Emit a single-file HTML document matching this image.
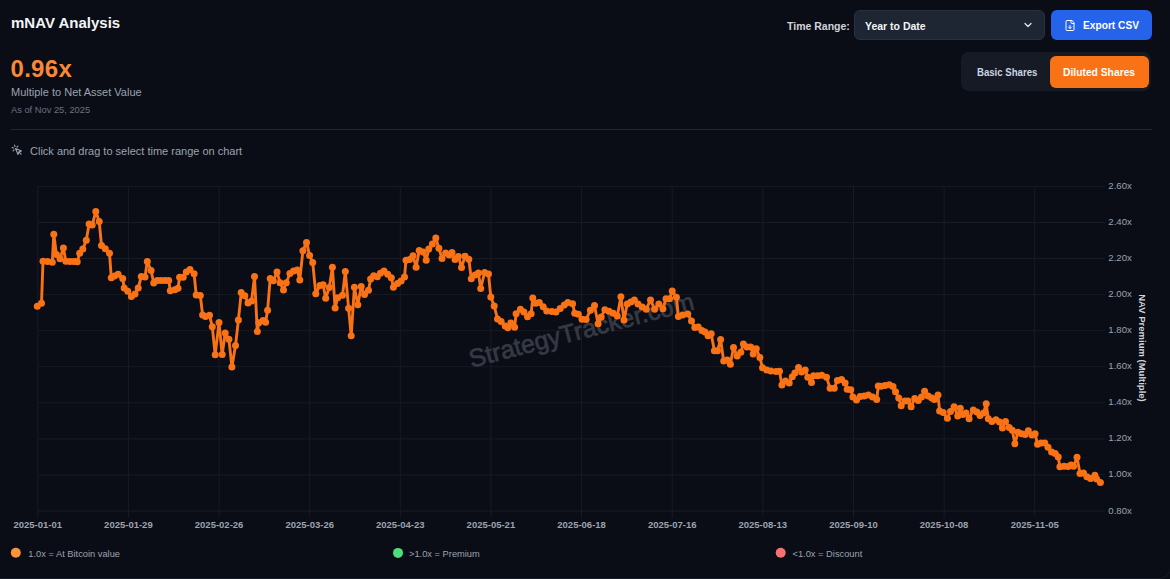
<!DOCTYPE html>
<html><head><meta charset="utf-8">
<style>
html,body{margin:0;padding:0;}
body{width:1170px;height:579px;overflow:hidden;background:#0a0d16;font-family:"Liberation Sans",sans-serif;position:relative;}
.a{position:absolute;white-space:nowrap;line-height:1;}
#title{left:11px;top:15px;font-size:15px;font-weight:bold;color:#f3f4f6;}
#val{left:10.5px;top:57px;font-size:24px;font-weight:bold;color:#f98838;letter-spacing:0.3px;}
#sub{left:11px;top:87px;font-size:11px;color:#9ca3af;}
#asof{left:11px;top:105.6px;font-size:9.3px;color:#6b7280;}
#sep{left:11px;top:129px;width:1141px;height:1px;background:#1f2430;}
#hint{left:30px;top:145.6px;font-size:11px;color:#9ca3af;}
#tr{left:787px;top:20.7px;font-size:10.5px;font-weight:bold;color:#d1d5db;}
#sel{left:854px;top:10px;width:189px;height:28px;background:#1e2533;border:1px solid #2a3242;border-radius:6px;}
#seltxt{left:865px;top:20.7px;font-size:10.5px;font-weight:bold;color:#f3f4f6;}
#exp{left:1051px;top:10px;width:101px;height:30px;background:#2563eb;border-radius:6px;}
#exptxt{left:1083px;top:21.1px;font-size:10.2px;font-weight:bold;color:#ffffff;}
#tog{left:961px;top:52px;width:190px;height:39px;background:#151a24;border-radius:8px;}
#dil{left:1050px;top:56px;width:99px;height:32px;background:#f97316;border-radius:6px;}
#bas{left:977px;top:67px;font-size:10.5px;transform:scaleX(0.915);transform-origin:0 0;font-weight:bold;color:#cbd5e1;}
#diltxt{left:1063px;top:67.5px;font-size:10.3px;font-weight:bold;color:#ffffff;}
</style></head>
<body>
<div class="a" id="title">mNAV Analysis</div>
<div class="a" id="val">0.96x</div>
<div class="a" id="sub">Multiple to Net Asset Value</div>
<div class="a" id="asof">As of Nov 25, 2025</div>
<div class="a" id="sep"></div>
<svg class="a" style="left:11px;top:144px" width="12" height="12" viewBox="0 0 24 24" fill="none" stroke="#9ca3af" stroke-width="2.2" stroke-linecap="round" stroke-linejoin="round"><path d="m9 9 5 12 1.774-5.226L21 14 9 9z"/><path d="m16.071 16.071 4.243 4.243"/><path d="m7.188 2.239.777 2.897M5.136 7.965l-2.898-.777M13.95 4.05l-2.122 2.122m-5.657 5.656-2.12 2.122"/></svg>
<div class="a" id="hint">Click and drag to select time range on chart</div>

<div class="a" id="tr">Time Range:</div>
<div class="a" id="sel"></div>
<div class="a" id="seltxt">Year to Date</div>
<svg class="a" style="left:1022px;top:19px" width="12" height="12" viewBox="0 0 24 24" fill="none" stroke="#e5e7eb" stroke-width="2.5" stroke-linecap="round" stroke-linejoin="round"><path d="m6 9 6 6 6-6"/></svg>
<div class="a" id="exp"></div>
<svg class="a" style="left:1064px;top:19px" width="12" height="13" viewBox="0 0 24 24" fill="none" stroke="#ffffff" stroke-width="2" stroke-linecap="round" stroke-linejoin="round"><path d="M15 2H6a2 2 0 0 0-2 2v16a2 2 0 0 0 2 2h12a2 2 0 0 0 2-2V7Z"/><path d="M14 2v4a2 2 0 0 0 2 2h4"/><path d="M12 18v-6"/><path d="m9 15 3 3 3-3"/></svg>
<div class="a" id="exptxt">Export CSV</div>
<div class="a" id="tog"></div>
<div class="a" id="dil"></div>
<div class="a" id="bas">Basic Shares</div>
<div class="a" id="diltxt">Diluted Shares</div>

<svg id="chart" class="a" style="left:0;top:0" width="1170" height="579">
<line x1="37.8" y1="511.0" x2="1105" y2="511.0" stroke="#181b24" stroke-width="1"/>
<line x1="37.8" y1="474.9" x2="1105" y2="474.9" stroke="#181b24" stroke-width="1"/>
<line x1="37.8" y1="438.9" x2="1105" y2="438.9" stroke="#181b24" stroke-width="1"/>
<line x1="37.8" y1="402.8" x2="1105" y2="402.8" stroke="#181b24" stroke-width="1"/>
<line x1="37.8" y1="366.7" x2="1105" y2="366.7" stroke="#181b24" stroke-width="1"/>
<line x1="37.8" y1="330.7" x2="1105" y2="330.7" stroke="#181b24" stroke-width="1"/>
<line x1="37.8" y1="294.6" x2="1105" y2="294.6" stroke="#181b24" stroke-width="1"/>
<line x1="37.8" y1="258.5" x2="1105" y2="258.5" stroke="#181b24" stroke-width="1"/>
<line x1="37.8" y1="222.5" x2="1105" y2="222.5" stroke="#181b24" stroke-width="1"/>
<line x1="37.8" y1="186.4" x2="1105" y2="186.4" stroke="#181b24" stroke-width="1"/>
<line x1="37.8" y1="186.4" x2="37.8" y2="518" stroke="#181b24" stroke-width="1"/>
<line x1="128.4" y1="186.4" x2="128.4" y2="518" stroke="#181b24" stroke-width="1"/>
<line x1="219.1" y1="186.4" x2="219.1" y2="518" stroke="#181b24" stroke-width="1"/>
<line x1="309.7" y1="186.4" x2="309.7" y2="518" stroke="#181b24" stroke-width="1"/>
<line x1="400.3" y1="186.4" x2="400.3" y2="518" stroke="#181b24" stroke-width="1"/>
<line x1="490.9" y1="186.4" x2="490.9" y2="518" stroke="#181b24" stroke-width="1"/>
<line x1="581.6" y1="186.4" x2="581.6" y2="518" stroke="#181b24" stroke-width="1"/>
<line x1="672.2" y1="186.4" x2="672.2" y2="518" stroke="#181b24" stroke-width="1"/>
<line x1="762.8" y1="186.4" x2="762.8" y2="518" stroke="#181b24" stroke-width="1"/>
<line x1="853.5" y1="186.4" x2="853.5" y2="518" stroke="#181b24" stroke-width="1"/>
<line x1="944.1" y1="186.4" x2="944.1" y2="518" stroke="#181b24" stroke-width="1"/>
<line x1="1034.7" y1="186.4" x2="1034.7" y2="518" stroke="#181b24" stroke-width="1"/>
<text x="1108.3" y="513.5" font-size="9.6" fill="#9ca3af">0.80x</text>
<text x="1108.3" y="477.4" font-size="9.6" fill="#9ca3af">1.00x</text>
<text x="1108.3" y="441.4" font-size="9.6" fill="#9ca3af">1.20x</text>
<text x="1108.3" y="405.3" font-size="9.6" fill="#9ca3af">1.40x</text>
<text x="1108.3" y="369.2" font-size="9.6" fill="#9ca3af">1.60x</text>
<text x="1108.3" y="333.2" font-size="9.6" fill="#9ca3af">1.80x</text>
<text x="1108.3" y="297.1" font-size="9.6" fill="#9ca3af">2.00x</text>
<text x="1108.3" y="261.0" font-size="9.6" fill="#9ca3af">2.20x</text>
<text x="1108.3" y="225.0" font-size="9.6" fill="#9ca3af">2.40x</text>
<text x="1108.3" y="188.9" font-size="9.6" fill="#9ca3af">2.60x</text>
<text x="37.8" y="528.3" font-size="9.5" font-weight="bold" fill="#9ca3af" text-anchor="middle">2025-01-01</text>
<text x="128.4" y="528.3" font-size="9.5" font-weight="bold" fill="#9ca3af" text-anchor="middle">2025-01-29</text>
<text x="219.1" y="528.3" font-size="9.5" font-weight="bold" fill="#9ca3af" text-anchor="middle">2025-02-26</text>
<text x="309.7" y="528.3" font-size="9.5" font-weight="bold" fill="#9ca3af" text-anchor="middle">2025-03-26</text>
<text x="400.3" y="528.3" font-size="9.5" font-weight="bold" fill="#9ca3af" text-anchor="middle">2025-04-23</text>
<text x="490.9" y="528.3" font-size="9.5" font-weight="bold" fill="#9ca3af" text-anchor="middle">2025-05-21</text>
<text x="581.6" y="528.3" font-size="9.5" font-weight="bold" fill="#9ca3af" text-anchor="middle">2025-06-18</text>
<text x="672.2" y="528.3" font-size="9.5" font-weight="bold" fill="#9ca3af" text-anchor="middle">2025-07-16</text>
<text x="762.8" y="528.3" font-size="9.5" font-weight="bold" fill="#9ca3af" text-anchor="middle">2025-08-13</text>
<text x="853.5" y="528.3" font-size="9.5" font-weight="bold" fill="#9ca3af" text-anchor="middle">2025-09-10</text>
<text x="944.1" y="528.3" font-size="9.5" font-weight="bold" fill="#9ca3af" text-anchor="middle">2025-10-08</text>
<text x="1034.7" y="528.3" font-size="9.5" font-weight="bold" fill="#9ca3af" text-anchor="middle">2025-11-05</text>
<text transform="translate(1139,348) rotate(90)" font-size="9.5" font-weight="bold" fill="#d1d5db" text-anchor="middle">NAV Premium (Multiple)</text>
<text transform="translate(583.5,338.5) rotate(-14.6)" font-size="25.2" fill="#474c57" stroke="#474c57" stroke-width="0.7" opacity="0.7" text-anchor="middle">StrategyTracker.com</text>
<path d="M37.3,306.2 L41.5,303.2 L43.0,261.2 L47.5,261.5 L52.3,262.3 L53.8,234.2 L56.4,254.5 L60.0,258.7 L63.4,248.0 L65.8,261.2 L70.0,261.5 L74.0,261.5 L77.2,261.8 L79.7,253.3 L82.8,249.1 L86.3,240.3 L89.1,224.0 L92.2,225.0 L95.8,211.6 L99.2,221.4 L101.5,245.5 L105.3,248.8 L109.5,253.3 L111.3,277.8 L114.5,276.0 L118.1,274.2 L122.7,278.6 L124.2,288.0 L127.8,291.3 L131.4,296.5 L135.0,293.9 L138.2,288.0 L141.3,276.5 L145.0,277.0 L147.3,261.5 L151.1,270.5 L153.7,283.0 L157.3,280.4 L161.0,280.4 L165.0,280.4 L168.7,280.4 L170.3,290.8 L174.9,289.7 L178.0,288.2 L179.6,277.3 L183.2,277.3 L186.3,272.1 L190.0,269.5 L194.1,273.7 L196.2,294.9 L200.3,295.4 L202.6,315.0 L205.5,316.4 L209.5,315.2 L212.3,326.8 L215.2,354.8 L219.0,322.6 L222.2,354.5 L225.2,333.0 L228.9,339.2 L231.9,366.9 L235.5,345.6 L238.4,320.1 L241.2,292.6 L244.8,295.7 L248.0,303.0 L251.6,300.9 L254.5,276.6 L257.3,331.5 L258.8,322.7 L263.0,320.6 L265.6,322.2 L267.6,310.2 L270.2,278.4 L273.3,280.8 L277.0,272.0 L280.1,282.8 L283.5,290.0 L286.3,282.8 L289.9,273.5 L293.5,270.9 L297.2,269.9 L299.8,280.0 L302.9,250.7 L306.5,242.4 L309.6,255.4 L312.7,262.6 L315.8,293.7 L320.0,285.4 L323.1,284.8 L325.7,298.3 L329.3,287.4 L332.4,267.3 L335.1,308.0 L337.6,297.8 L342.5,295.3 L345.3,271.6 L348.6,308.3 L351.2,335.8 L354.4,287.2 L357.8,304.7 L361.2,286.6 L364.5,294.6 L368.5,290.2 L370.6,278.9 L373.7,275.8 L377.3,276.8 L380.4,273.2 L384.0,271.1 L387.7,274.2 L391.3,277.8 L393.4,287.2 L397.5,283.5 L401.1,280.9 L404.5,277.0 L406.0,260.2 L409.6,259.5 L413.0,255.8 L416.1,267.2 L419.2,250.6 L423.1,252.0 L426.2,260.2 L428.8,249.0 L432.4,243.9 L435.8,238.0 L438.9,248.3 L442.0,258.4 L445.6,253.0 L449.2,255.1 L452.0,252.5 L455.0,259.5 L458.4,256.4 L461.5,267.5 L465.0,256.2 L468.8,259.2 L471.3,278.7 L475.0,275.0 L478.4,273.0 L480.7,288.5 L484.6,272.5 L488.5,274.0 L490.8,297.1 L494.2,306.0 L497.5,318.9 L501.1,321.5 L505.2,326.1 L507.8,327.7 L510.9,323.0 L514.6,327.2 L516.1,313.7 L520.4,309.3 L523.9,312.1 L527.5,316.8 L531.1,313.7 L532.8,297.9 L535.8,303.3 L539.3,302.5 L543.2,306.7 L546.7,311.1 L551.9,311.6 L556.0,312.1 L560.2,308.5 L564.3,304.9 L567.8,302.5 L572.6,303.8 L574.7,313.2 L578.3,314.2 L582.0,319.2 L586.1,319.5 L590.4,310.2 L594.5,305.6 L598.1,323.7 L601.2,317.0 L604.9,309.7 L609.0,311.3 L613.2,313.3 L617.3,315.9 L620.9,296.8 L624.0,320.1 L627.2,304.0 L630.8,301.9 L634.4,299.9 L638.0,304.0 L642.2,307.1 L646.3,309.2 L650.5,299.9 L654.6,309.2 L658.8,304.0 L662.9,308.7 L666.0,298.8 L669.6,298.8 L672.2,291.1 L676.4,297.3 L678.4,316.5 L682.6,314.9 L687.8,313.9 L691.5,320.9 L694.8,327.4 L698.2,327.0 L701.9,330.5 L705.0,332.1 L708.1,335.7 L711.2,333.7 L714.4,350.8 L717.5,350.8 L720.6,339.4 L723.7,361.1 L727.3,360.1 L730.4,364.2 L733.5,347.6 L737.2,355.9 L740.8,352.3 L743.4,344.0 L747.0,347.1 L750.6,347.1 L753.2,353.9 L756.3,348.7 L759.9,357.5 L762.5,367.8 L766.7,369.9 L770.9,371.0 L776.0,371.5 L779.5,371.3 L781.9,385.1 L785.5,380.9 L789.2,383.0 L792.3,376.8 L794.9,373.1 L798.5,367.4 L801.6,372.1 L805.2,370.0 L807.8,377.3 L811.5,382.5 L813.5,375.7 L817.7,375.7 L821.8,375.2 L826.5,377.3 L830.1,388.2 L834.2,388.2 L837.4,380.4 L841.5,379.4 L845.1,383.0 L847.2,389.2 L850.8,389.7 L852.9,397.0 L856.5,400.1 L860.2,396.5 L864.3,395.9 L868.4,394.9 L872.6,397.0 L876.7,399.6 L878.3,386.1 L881.0,386.3 L885.0,385.5 L889.3,384.8 L893.0,386.6 L895.5,391.8 L898.7,398.0 L901.2,405.8 L904.9,401.1 L908.0,401.1 L911.1,406.8 L914.7,398.5 L918.3,400.6 L921.5,396.9 L924.6,391.2 L928.2,395.9 L931.8,398.0 L934.4,399.5 L938.0,394.9 L939.6,410.9 L943.2,412.5 L947.4,418.2 L950.5,411.5 L954.1,406.8 L957.7,416.1 L960.3,408.3 L962.9,414.6 L966.0,413.0 L969.1,418.7 L973.3,409.9 L976.9,412.0 L980.0,415.6 L983.6,413.0 L986.2,403.7 L988.3,418.7 L991.9,421.6 L995.9,419.8 L999.5,422.1 L1002.4,428.1 L1005.5,421.4 L1009.2,427.6 L1012.3,430.2 L1014.9,443.7 L1018.0,432.3 L1021.6,433.8 L1025.2,434.4 L1028.3,430.7 L1032.0,434.9 L1035.1,433.8 L1037.5,444.2 L1041.0,443.1 L1044.8,443.0 L1048.0,447.3 L1051.6,452.0 L1055.2,453.6 L1058.2,457.0 L1059.9,466.7 L1064.0,466.3 L1068.0,466.6 L1071.0,464.9 L1073.5,466.2 L1077.0,457.3 L1080.0,473.6 L1083.5,473.0 L1086.9,476.7 L1090.5,478.5 L1094.9,475.2 L1096.6,479.0 L1100.4,482.5" fill="none" stroke="#f97316" stroke-width="2.9" stroke-linejoin="round"/>
<g fill="#f97316"><circle cx="37.3" cy="306.2" r="3.5"/><circle cx="41.5" cy="303.2" r="3.5"/><circle cx="43.0" cy="261.2" r="3.5"/><circle cx="47.5" cy="261.5" r="3.5"/><circle cx="52.3" cy="262.3" r="3.5"/><circle cx="53.8" cy="234.2" r="3.5"/><circle cx="56.4" cy="254.5" r="3.5"/><circle cx="60.0" cy="258.7" r="3.5"/><circle cx="63.4" cy="248.0" r="3.5"/><circle cx="65.8" cy="261.2" r="3.5"/><circle cx="70.0" cy="261.5" r="3.5"/><circle cx="74.0" cy="261.5" r="3.5"/><circle cx="77.2" cy="261.8" r="3.5"/><circle cx="79.7" cy="253.3" r="3.5"/><circle cx="82.8" cy="249.1" r="3.5"/><circle cx="86.3" cy="240.3" r="3.5"/><circle cx="89.1" cy="224.0" r="3.5"/><circle cx="92.2" cy="225.0" r="3.5"/><circle cx="95.8" cy="211.6" r="3.5"/><circle cx="99.2" cy="221.4" r="3.5"/><circle cx="101.5" cy="245.5" r="3.5"/><circle cx="105.3" cy="248.8" r="3.5"/><circle cx="109.5" cy="253.3" r="3.5"/><circle cx="111.3" cy="277.8" r="3.5"/><circle cx="114.5" cy="276.0" r="3.5"/><circle cx="118.1" cy="274.2" r="3.5"/><circle cx="122.7" cy="278.6" r="3.5"/><circle cx="124.2" cy="288.0" r="3.5"/><circle cx="127.8" cy="291.3" r="3.5"/><circle cx="131.4" cy="296.5" r="3.5"/><circle cx="135.0" cy="293.9" r="3.5"/><circle cx="138.2" cy="288.0" r="3.5"/><circle cx="141.3" cy="276.5" r="3.5"/><circle cx="145.0" cy="277.0" r="3.5"/><circle cx="147.3" cy="261.5" r="3.5"/><circle cx="151.1" cy="270.5" r="3.5"/><circle cx="153.7" cy="283.0" r="3.5"/><circle cx="157.3" cy="280.4" r="3.5"/><circle cx="161.0" cy="280.4" r="3.5"/><circle cx="165.0" cy="280.4" r="3.5"/><circle cx="168.7" cy="280.4" r="3.5"/><circle cx="170.3" cy="290.8" r="3.5"/><circle cx="174.9" cy="289.7" r="3.5"/><circle cx="178.0" cy="288.2" r="3.5"/><circle cx="179.6" cy="277.3" r="3.5"/><circle cx="183.2" cy="277.3" r="3.5"/><circle cx="186.3" cy="272.1" r="3.5"/><circle cx="190.0" cy="269.5" r="3.5"/><circle cx="194.1" cy="273.7" r="3.5"/><circle cx="196.2" cy="294.9" r="3.5"/><circle cx="200.3" cy="295.4" r="3.5"/><circle cx="202.6" cy="315.0" r="3.5"/><circle cx="205.5" cy="316.4" r="3.5"/><circle cx="209.5" cy="315.2" r="3.5"/><circle cx="212.3" cy="326.8" r="3.5"/><circle cx="215.2" cy="354.8" r="3.5"/><circle cx="219.0" cy="322.6" r="3.5"/><circle cx="222.2" cy="354.5" r="3.5"/><circle cx="225.2" cy="333.0" r="3.5"/><circle cx="228.9" cy="339.2" r="3.5"/><circle cx="231.9" cy="366.9" r="3.5"/><circle cx="235.5" cy="345.6" r="3.5"/><circle cx="238.4" cy="320.1" r="3.5"/><circle cx="241.2" cy="292.6" r="3.5"/><circle cx="244.8" cy="295.7" r="3.5"/><circle cx="248.0" cy="303.0" r="3.5"/><circle cx="251.6" cy="300.9" r="3.5"/><circle cx="254.5" cy="276.6" r="3.5"/><circle cx="257.3" cy="331.5" r="3.5"/><circle cx="258.8" cy="322.7" r="3.5"/><circle cx="263.0" cy="320.6" r="3.5"/><circle cx="265.6" cy="322.2" r="3.5"/><circle cx="267.6" cy="310.2" r="3.5"/><circle cx="270.2" cy="278.4" r="3.5"/><circle cx="273.3" cy="280.8" r="3.5"/><circle cx="277.0" cy="272.0" r="3.5"/><circle cx="280.1" cy="282.8" r="3.5"/><circle cx="283.5" cy="290.0" r="3.5"/><circle cx="286.3" cy="282.8" r="3.5"/><circle cx="289.9" cy="273.5" r="3.5"/><circle cx="293.5" cy="270.9" r="3.5"/><circle cx="297.2" cy="269.9" r="3.5"/><circle cx="299.8" cy="280.0" r="3.5"/><circle cx="302.9" cy="250.7" r="3.5"/><circle cx="306.5" cy="242.4" r="3.5"/><circle cx="309.6" cy="255.4" r="3.5"/><circle cx="312.7" cy="262.6" r="3.5"/><circle cx="315.8" cy="293.7" r="3.5"/><circle cx="320.0" cy="285.4" r="3.5"/><circle cx="323.1" cy="284.8" r="3.5"/><circle cx="325.7" cy="298.3" r="3.5"/><circle cx="329.3" cy="287.4" r="3.5"/><circle cx="332.4" cy="267.3" r="3.5"/><circle cx="335.1" cy="308.0" r="3.5"/><circle cx="337.6" cy="297.8" r="3.5"/><circle cx="342.5" cy="295.3" r="3.5"/><circle cx="345.3" cy="271.6" r="3.5"/><circle cx="348.6" cy="308.3" r="3.5"/><circle cx="351.2" cy="335.8" r="3.5"/><circle cx="354.4" cy="287.2" r="3.5"/><circle cx="357.8" cy="304.7" r="3.5"/><circle cx="361.2" cy="286.6" r="3.5"/><circle cx="364.5" cy="294.6" r="3.5"/><circle cx="368.5" cy="290.2" r="3.5"/><circle cx="370.6" cy="278.9" r="3.5"/><circle cx="373.7" cy="275.8" r="3.5"/><circle cx="377.3" cy="276.8" r="3.5"/><circle cx="380.4" cy="273.2" r="3.5"/><circle cx="384.0" cy="271.1" r="3.5"/><circle cx="387.7" cy="274.2" r="3.5"/><circle cx="391.3" cy="277.8" r="3.5"/><circle cx="393.4" cy="287.2" r="3.5"/><circle cx="397.5" cy="283.5" r="3.5"/><circle cx="401.1" cy="280.9" r="3.5"/><circle cx="404.5" cy="277.0" r="3.5"/><circle cx="406.0" cy="260.2" r="3.5"/><circle cx="409.6" cy="259.5" r="3.5"/><circle cx="413.0" cy="255.8" r="3.5"/><circle cx="416.1" cy="267.2" r="3.5"/><circle cx="419.2" cy="250.6" r="3.5"/><circle cx="423.1" cy="252.0" r="3.5"/><circle cx="426.2" cy="260.2" r="3.5"/><circle cx="428.8" cy="249.0" r="3.5"/><circle cx="432.4" cy="243.9" r="3.5"/><circle cx="435.8" cy="238.0" r="3.5"/><circle cx="438.9" cy="248.3" r="3.5"/><circle cx="442.0" cy="258.4" r="3.5"/><circle cx="445.6" cy="253.0" r="3.5"/><circle cx="449.2" cy="255.1" r="3.5"/><circle cx="452.0" cy="252.5" r="3.5"/><circle cx="455.0" cy="259.5" r="3.5"/><circle cx="458.4" cy="256.4" r="3.5"/><circle cx="461.5" cy="267.5" r="3.5"/><circle cx="465.0" cy="256.2" r="3.5"/><circle cx="468.8" cy="259.2" r="3.5"/><circle cx="471.3" cy="278.7" r="3.5"/><circle cx="475.0" cy="275.0" r="3.5"/><circle cx="478.4" cy="273.0" r="3.5"/><circle cx="480.7" cy="288.5" r="3.5"/><circle cx="484.6" cy="272.5" r="3.5"/><circle cx="488.5" cy="274.0" r="3.5"/><circle cx="490.8" cy="297.1" r="3.5"/><circle cx="494.2" cy="306.0" r="3.5"/><circle cx="497.5" cy="318.9" r="3.5"/><circle cx="501.1" cy="321.5" r="3.5"/><circle cx="505.2" cy="326.1" r="3.5"/><circle cx="507.8" cy="327.7" r="3.5"/><circle cx="510.9" cy="323.0" r="3.5"/><circle cx="514.6" cy="327.2" r="3.5"/><circle cx="516.1" cy="313.7" r="3.5"/><circle cx="520.4" cy="309.3" r="3.5"/><circle cx="523.9" cy="312.1" r="3.5"/><circle cx="527.5" cy="316.8" r="3.5"/><circle cx="531.1" cy="313.7" r="3.5"/><circle cx="532.8" cy="297.9" r="3.5"/><circle cx="535.8" cy="303.3" r="3.5"/><circle cx="539.3" cy="302.5" r="3.5"/><circle cx="543.2" cy="306.7" r="3.5"/><circle cx="546.7" cy="311.1" r="3.5"/><circle cx="551.9" cy="311.6" r="3.5"/><circle cx="556.0" cy="312.1" r="3.5"/><circle cx="560.2" cy="308.5" r="3.5"/><circle cx="564.3" cy="304.9" r="3.5"/><circle cx="567.8" cy="302.5" r="3.5"/><circle cx="572.6" cy="303.8" r="3.5"/><circle cx="574.7" cy="313.2" r="3.5"/><circle cx="578.3" cy="314.2" r="3.5"/><circle cx="582.0" cy="319.2" r="3.5"/><circle cx="586.1" cy="319.5" r="3.5"/><circle cx="590.4" cy="310.2" r="3.5"/><circle cx="594.5" cy="305.6" r="3.5"/><circle cx="598.1" cy="323.7" r="3.5"/><circle cx="601.2" cy="317.0" r="3.5"/><circle cx="604.9" cy="309.7" r="3.5"/><circle cx="609.0" cy="311.3" r="3.5"/><circle cx="613.2" cy="313.3" r="3.5"/><circle cx="617.3" cy="315.9" r="3.5"/><circle cx="620.9" cy="296.8" r="3.5"/><circle cx="624.0" cy="320.1" r="3.5"/><circle cx="627.2" cy="304.0" r="3.5"/><circle cx="630.8" cy="301.9" r="3.5"/><circle cx="634.4" cy="299.9" r="3.5"/><circle cx="638.0" cy="304.0" r="3.5"/><circle cx="642.2" cy="307.1" r="3.5"/><circle cx="646.3" cy="309.2" r="3.5"/><circle cx="650.5" cy="299.9" r="3.5"/><circle cx="654.6" cy="309.2" r="3.5"/><circle cx="658.8" cy="304.0" r="3.5"/><circle cx="662.9" cy="308.7" r="3.5"/><circle cx="666.0" cy="298.8" r="3.5"/><circle cx="669.6" cy="298.8" r="3.5"/><circle cx="672.2" cy="291.1" r="3.5"/><circle cx="676.4" cy="297.3" r="3.5"/><circle cx="678.4" cy="316.5" r="3.5"/><circle cx="682.6" cy="314.9" r="3.5"/><circle cx="687.8" cy="313.9" r="3.5"/><circle cx="691.5" cy="320.9" r="3.5"/><circle cx="694.8" cy="327.4" r="3.5"/><circle cx="698.2" cy="327.0" r="3.5"/><circle cx="701.9" cy="330.5" r="3.5"/><circle cx="705.0" cy="332.1" r="3.5"/><circle cx="708.1" cy="335.7" r="3.5"/><circle cx="711.2" cy="333.7" r="3.5"/><circle cx="714.4" cy="350.8" r="3.5"/><circle cx="717.5" cy="350.8" r="3.5"/><circle cx="720.6" cy="339.4" r="3.5"/><circle cx="723.7" cy="361.1" r="3.5"/><circle cx="727.3" cy="360.1" r="3.5"/><circle cx="730.4" cy="364.2" r="3.5"/><circle cx="733.5" cy="347.6" r="3.5"/><circle cx="737.2" cy="355.9" r="3.5"/><circle cx="740.8" cy="352.3" r="3.5"/><circle cx="743.4" cy="344.0" r="3.5"/><circle cx="747.0" cy="347.1" r="3.5"/><circle cx="750.6" cy="347.1" r="3.5"/><circle cx="753.2" cy="353.9" r="3.5"/><circle cx="756.3" cy="348.7" r="3.5"/><circle cx="759.9" cy="357.5" r="3.5"/><circle cx="762.5" cy="367.8" r="3.5"/><circle cx="766.7" cy="369.9" r="3.5"/><circle cx="770.9" cy="371.0" r="3.5"/><circle cx="776.0" cy="371.5" r="3.5"/><circle cx="779.5" cy="371.3" r="3.5"/><circle cx="781.9" cy="385.1" r="3.5"/><circle cx="785.5" cy="380.9" r="3.5"/><circle cx="789.2" cy="383.0" r="3.5"/><circle cx="792.3" cy="376.8" r="3.5"/><circle cx="794.9" cy="373.1" r="3.5"/><circle cx="798.5" cy="367.4" r="3.5"/><circle cx="801.6" cy="372.1" r="3.5"/><circle cx="805.2" cy="370.0" r="3.5"/><circle cx="807.8" cy="377.3" r="3.5"/><circle cx="811.5" cy="382.5" r="3.5"/><circle cx="813.5" cy="375.7" r="3.5"/><circle cx="817.7" cy="375.7" r="3.5"/><circle cx="821.8" cy="375.2" r="3.5"/><circle cx="826.5" cy="377.3" r="3.5"/><circle cx="830.1" cy="388.2" r="3.5"/><circle cx="834.2" cy="388.2" r="3.5"/><circle cx="837.4" cy="380.4" r="3.5"/><circle cx="841.5" cy="379.4" r="3.5"/><circle cx="845.1" cy="383.0" r="3.5"/><circle cx="847.2" cy="389.2" r="3.5"/><circle cx="850.8" cy="389.7" r="3.5"/><circle cx="852.9" cy="397.0" r="3.5"/><circle cx="856.5" cy="400.1" r="3.5"/><circle cx="860.2" cy="396.5" r="3.5"/><circle cx="864.3" cy="395.9" r="3.5"/><circle cx="868.4" cy="394.9" r="3.5"/><circle cx="872.6" cy="397.0" r="3.5"/><circle cx="876.7" cy="399.6" r="3.5"/><circle cx="878.3" cy="386.1" r="3.5"/><circle cx="881.0" cy="386.3" r="3.5"/><circle cx="885.0" cy="385.5" r="3.5"/><circle cx="889.3" cy="384.8" r="3.5"/><circle cx="893.0" cy="386.6" r="3.5"/><circle cx="895.5" cy="391.8" r="3.5"/><circle cx="898.7" cy="398.0" r="3.5"/><circle cx="901.2" cy="405.8" r="3.5"/><circle cx="904.9" cy="401.1" r="3.5"/><circle cx="908.0" cy="401.1" r="3.5"/><circle cx="911.1" cy="406.8" r="3.5"/><circle cx="914.7" cy="398.5" r="3.5"/><circle cx="918.3" cy="400.6" r="3.5"/><circle cx="921.5" cy="396.9" r="3.5"/><circle cx="924.6" cy="391.2" r="3.5"/><circle cx="928.2" cy="395.9" r="3.5"/><circle cx="931.8" cy="398.0" r="3.5"/><circle cx="934.4" cy="399.5" r="3.5"/><circle cx="938.0" cy="394.9" r="3.5"/><circle cx="939.6" cy="410.9" r="3.5"/><circle cx="943.2" cy="412.5" r="3.5"/><circle cx="947.4" cy="418.2" r="3.5"/><circle cx="950.5" cy="411.5" r="3.5"/><circle cx="954.1" cy="406.8" r="3.5"/><circle cx="957.7" cy="416.1" r="3.5"/><circle cx="960.3" cy="408.3" r="3.5"/><circle cx="962.9" cy="414.6" r="3.5"/><circle cx="966.0" cy="413.0" r="3.5"/><circle cx="969.1" cy="418.7" r="3.5"/><circle cx="973.3" cy="409.9" r="3.5"/><circle cx="976.9" cy="412.0" r="3.5"/><circle cx="980.0" cy="415.6" r="3.5"/><circle cx="983.6" cy="413.0" r="3.5"/><circle cx="986.2" cy="403.7" r="3.5"/><circle cx="988.3" cy="418.7" r="3.5"/><circle cx="991.9" cy="421.6" r="3.5"/><circle cx="995.9" cy="419.8" r="3.5"/><circle cx="999.5" cy="422.1" r="3.5"/><circle cx="1002.4" cy="428.1" r="3.5"/><circle cx="1005.5" cy="421.4" r="3.5"/><circle cx="1009.2" cy="427.6" r="3.5"/><circle cx="1012.3" cy="430.2" r="3.5"/><circle cx="1014.9" cy="443.7" r="3.5"/><circle cx="1018.0" cy="432.3" r="3.5"/><circle cx="1021.6" cy="433.8" r="3.5"/><circle cx="1025.2" cy="434.4" r="3.5"/><circle cx="1028.3" cy="430.7" r="3.5"/><circle cx="1032.0" cy="434.9" r="3.5"/><circle cx="1035.1" cy="433.8" r="3.5"/><circle cx="1037.5" cy="444.2" r="3.5"/><circle cx="1041.0" cy="443.1" r="3.5"/><circle cx="1044.8" cy="443.0" r="3.5"/><circle cx="1048.0" cy="447.3" r="3.5"/><circle cx="1051.6" cy="452.0" r="3.5"/><circle cx="1055.2" cy="453.6" r="3.5"/><circle cx="1058.2" cy="457.0" r="3.5"/><circle cx="1059.9" cy="466.7" r="3.5"/><circle cx="1064.0" cy="466.3" r="3.5"/><circle cx="1068.0" cy="466.6" r="3.5"/><circle cx="1071.0" cy="464.9" r="3.5"/><circle cx="1073.5" cy="466.2" r="3.5"/><circle cx="1077.0" cy="457.3" r="3.5"/><circle cx="1080.0" cy="473.6" r="3.5"/><circle cx="1083.5" cy="473.0" r="3.5"/><circle cx="1086.9" cy="476.7" r="3.5"/><circle cx="1090.5" cy="478.5" r="3.5"/><circle cx="1094.9" cy="475.2" r="3.5"/><circle cx="1096.6" cy="479.0" r="3.5"/><circle cx="1100.4" cy="482.5" r="3.5"/></g>
<path d="M0,578.5 H1160 Q1166,578.5 1169,572" fill="none" stroke="#1b1f29" stroke-width="1"/>
<circle cx="15.8" cy="552.8" r="5" fill="#fb923c"/>
<text x="28.3" y="557" font-size="9.3" fill="#9ca3af">1.0x = At Bitcoin value</text>
<circle cx="398" cy="552.9" r="5" fill="#4ade80"/>
<text x="409" y="557" font-size="9.3" fill="#9ca3af">&gt;1.0x = Premium</text>
<circle cx="780.7" cy="552.8" r="5" fill="#f87171"/>
<text x="792.5" y="557" font-size="9.3" fill="#9ca3af">&lt;1.0x = Discount</text>
</svg>
</body></html>
